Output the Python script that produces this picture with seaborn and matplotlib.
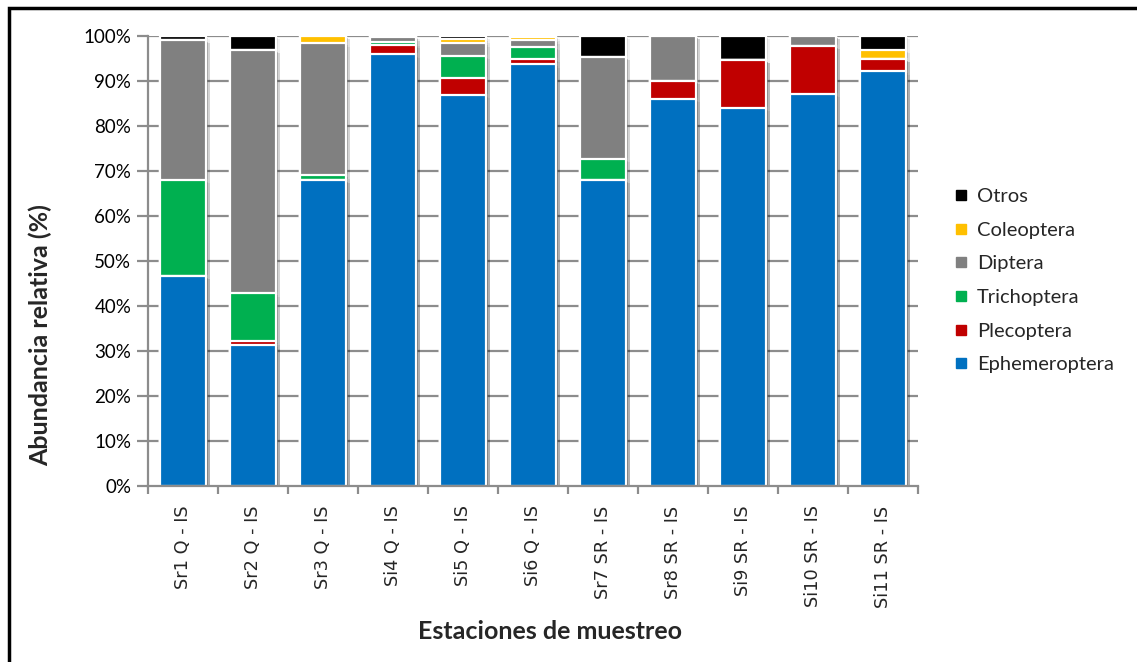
import matplotlib
matplotlib.use("Agg")
import matplotlib.pyplot as plt
import matplotlib.patheffects as pe
from matplotlib.patches import Rectangle
from matplotlib.lines import Line2D
from matplotlib.ticker import FixedLocator, PercentFormatter
import numpy as np
import pandas as pd
import seaborn as sns

# Sampling stations
estaciones = ["Sr1 Q - IS", "Sr2 Q - IS", "Sr3 Q - IS", "Si4 Q - IS", "Si5 Q - IS",
              "Si6 Q - IS", "Sr7 SR - IS", "Sr8 SR - IS", "Si9 SR - IS",
              "Si10 SR - IS", "Si11 SR - IS"]

# Relative abundance (%) per taxon, bottom to top of each stack
ephemeroptera = [46.7, 31.3, 68.0, 95.9, 86.9, 93.7, 68.0, 86.0, 84.1, 87.2, 92.2]
plecoptera    = [0.0, 0.9, 0.0, 2.2, 3.7, 1.3, 0.0, 4.1, 10.6, 10.6, 2.7]
trichoptera   = [21.3, 10.6, 1.1, 0.5, 5.0, 2.6, 4.7, 0.0, 0.0, 0.0, 0.0]
diptera       = [31.2, 54.2, 29.3, 1.1, 2.8, 1.5, 22.7, 9.9, 0.0, 2.2, 0.0]
coleoptera    = [0.0, 0.0, 1.6, 0.0, 0.9, 0.6, 0.0, 0.0, 0.0, 0.0, 2.1]
otros         = [0.8, 3.0, 0.0, 0.3, 0.7, 0.3, 4.6, 0.0, 5.3, 0.0, 3.0]

taxa = ["Ephemeroptera", "Plecoptera", "Trichoptera", "Diptera", "Coleoptera", "Otros"]
colores = ["#0070C0", "#C00000", "#00B050", "#808080", "#FFC000", "#000000"]

df = pd.DataFrame({
    "Estacion": estaciones,
    "Ephemeroptera": ephemeroptera,
    "Plecoptera": plecoptera,
    "Trichoptera": trichoptera,
    "Diptera": diptera,
    "Coleoptera": coleoptera,
    "Otros": otros,
})

# cumulative tops for stacked drawing
acum = df[taxa].cumsum(axis=1)

sns.set_theme(style="white")
plt.rcParams["font.family"] = ["Lato", "DejaVu Sans"]

fig = plt.figure(figsize=(11.37, 6.62), dpi=100)
ax = fig.add_axes([148 / 1137, 1 - 486 / 662, 770 / 1137, 450 / 662])

grid_c = "#8C8C8C"
for v in np.arange(10, 101, 10):
    ax.axhline(v, color=grid_c, lw=1.6, zorder=0.5)

shadow = [pe.SimplePatchShadow(offset=(1.5, -1.5), shadow_rgbFace="#000000", alpha=0.10),
          pe.SimplePatchShadow(offset=(3, -2.5), shadow_rgbFace="#000000", alpha=0.06),
          pe.Normal()]

# draw from the top layer down so each lower segment covers the one above
for i in range(len(taxa) - 1, -1, -1):
    layer = pd.DataFrame({"Estacion": estaciones, "valor": acum[taxa[i]].values})
    sns.barplot(data=layer, x="Estacion", y="valor", color=colores[i], width=0.66,
                edgecolor="white", linewidth=1.6, saturation=1, ax=ax, zorder=2 + (5 - i) * 0.01,
                order=estaciones)

for p in ax.patches:
    p.set_path_effects(shadow)

ax.set_xlim(-0.5, len(estaciones) - 0.5)
ax.set_ylim(0, 100)
ax.yaxis.set_major_locator(FixedLocator(np.arange(0, 101, 10)))
ax.yaxis.set_major_formatter(PercentFormatter(decimals=0))

for s in ["top", "right"]:
    ax.spines[s].set_visible(False)
for s in ["left", "bottom"]:
    ax.spines[s].set_color(grid_c)
    ax.spines[s].set_linewidth(1.6)

ax.tick_params(axis="y", left=True, length=8, width=1.6, color=grid_c,
               labelsize=13.5, pad=4, labelcolor="#000000")
ax.set_xticks(range(len(estaciones)))
ax.set_xticklabels(estaciones, rotation=90, fontsize=12.8, family=["DejaVu Sans"])
ax.tick_params(axis="x", which="major", length=0, pad=14)
ax.set_xticks(np.arange(-0.5, len(estaciones), 1), minor=True)
ax.tick_params(axis="x", which="minor", bottom=True, length=6, width=1.6, color=grid_c)

ax.set_xlabel("Estaciones de muestreo", fontsize=18, fontweight="bold")
ax.set_ylabel("Abundancia relativa (%)", fontsize=18, fontweight="bold")
ax.xaxis.set_label_coords((550 - 148) / 770, (486 - 620) / 450)
ax.yaxis.set_label_coords((52 - 148) / 770, (486 - 335) / 450)

handles = [Line2D([0], [0], marker="s", ls="", markersize=6.5, markerfacecolor=c,
                  markeredgecolor=c) for c in colores[::-1]]
fig.legend(handles, taxa[::-1], loc="upper left", bbox_to_anchor=(946 / 1137, 1 - 180 / 662),
           frameon=False, fontsize=14.5, labelspacing=0.82, handlelength=0.7,
           handletextpad=0.45, borderaxespad=0)

# outer chart border
fig.add_artist(Rectangle((8.5 / 1137, -0.1), 1.2, 1.1 - 7.5 / 662, transform=fig.transFigure,
                         fill=False, edgecolor="black", lw=2.5, clip_on=False))

fig.savefig("out.png", dpi=100)
